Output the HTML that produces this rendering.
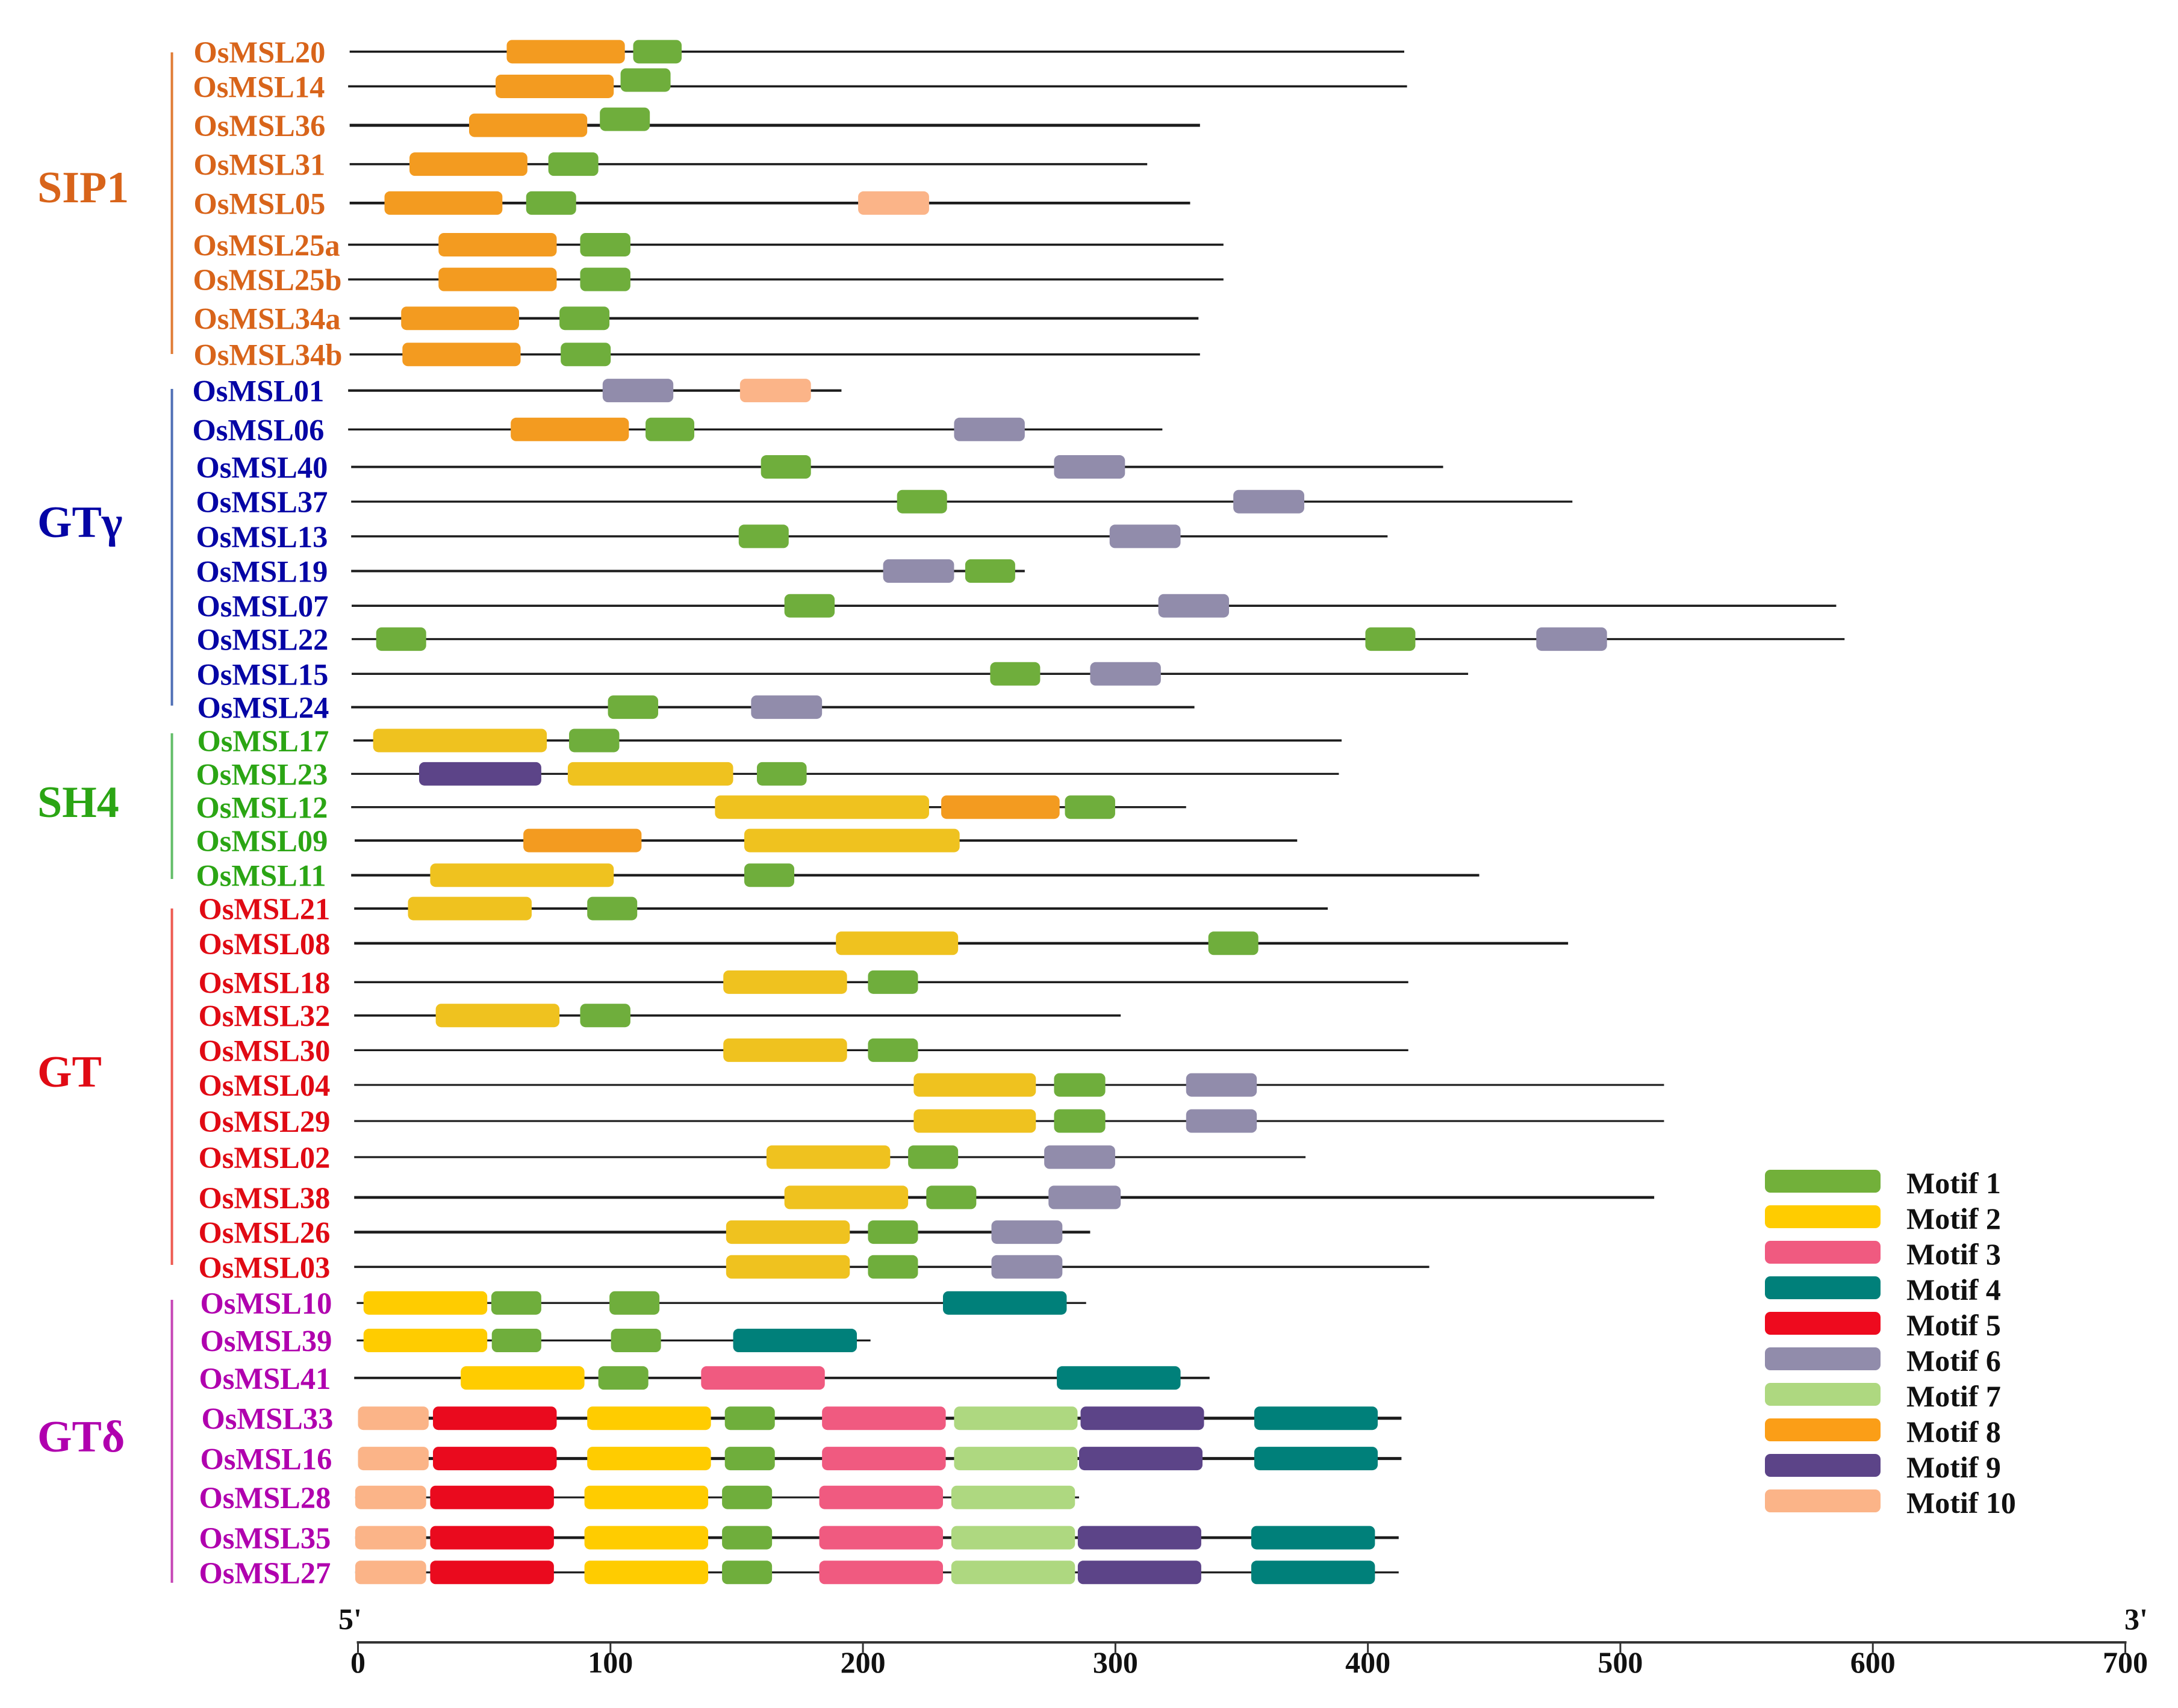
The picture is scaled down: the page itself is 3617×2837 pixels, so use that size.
<!DOCTYPE html>
<html lang="en">
<head>
<meta charset="utf-8">
<title>OsMSL motif structure</title>
<style>
html,body{margin:0;padding:0;background:#fff;}
svg{display:block;font-family:"Liberation Serif",serif;font-weight:bold;}
</style>
</head>
<body>
<svg id="chart" xmlns="http://www.w3.org/2000/svg" width="3617" height="2837" viewBox="0 0 3617 2837"></svg>
<script>
/* ---------- data ---------- */
const axisTicks = [0, 100, 200, 300, 400, 500, 600, 700];
const motifLabels = ['Motif 1','Motif 2','Motif 3','Motif 4','Motif 5','Motif 6','Motif 7','Motif 8','Motif 9','Motif 10'];
const geneNames = ['OsMSL20','OsMSL14','OsMSL36','OsMSL31','OsMSL05','OsMSL25a','OsMSL25b','OsMSL34a','OsMSL34b',
  'OsMSL01','OsMSL06','OsMSL40','OsMSL37','OsMSL13','OsMSL19','OsMSL07','OsMSL22','OsMSL15','OsMSL24',
  'OsMSL17','OsMSL23','OsMSL12','OsMSL09','OsMSL11',
  'OsMSL21','OsMSL08','OsMSL18','OsMSL32','OsMSL30','OsMSL04','OsMSL29','OsMSL02','OsMSL38','OsMSL26','OsMSL03',
  'OsMSL10','OsMSL39','OsMSL41','OsMSL33','OsMSL16','OsMSL28','OsMSL35','OsMSL27'];
const geneStart = [-3.3,-3.9,-3.3,-3.3,-3.3,-3.9,-3.9,-3.3,-3.3,
  -3.9,-3.9,-2.7,-2.7,-2.7,-2.7,-2.5,-2.5,-2.5,-2.7,
  -1.8,-2.7,-2.7,-1.3,-2.7,
  -1.5,-1.5,-1.5,-1.5,-1.5,-1.5,-1.5,-1.5,-1.5,-1.5,-1.5,
  -0.5,-0.5,-1.5,0,0,-1.1,-1.1,-1.1];
const geneEnd = [414.4,415.5,333.5,312.6,329.6,342.8,342.8,332.9,333.5,
  191.5,318.6,429.8,481,407.8,264.1,585.5,588.8,439.7,331.3,
  389.6,388.5,328,372,444.1,
  384.1,479.3,416,302.1,416,517.3,517.3,375.3,513.4,290,424.3,
  288.4,203,337.3,413.3,413.3,285.6,412.2,412.2];
const groupNames = ['SIP1','GTγ','SH4','GT','GTδ'];
const groupSizes = [9, 10, 5, 11, 8];
/* motif hits per gene: [motif number, start aa, end aa] */
const motifHits = [
  [[8,58.9,105.7],[1,109,128.2]],
  [[8,54.5,101.3],[1,104,123.8]],
  [[8,44,90.8],[1,95.8,115.6]],
  [[8,20.4,67.1],[1,75.4,95.2]],
  [[8,10.5,57.2],[1,66.6,86.4],[10,198.1,226.2]],
  [[8,31.9,78.7],[1,88,107.9]],
  [[8,31.9,78.7],[1,88,107.9]],
  [[8,17.1,63.8],[1,79.8,99.6]],
  [[8,17.6,64.4],[1,80.3,100.1]],
  [[6,96.9,124.9],[10,151.3,179.4]],
  [[8,60.5,107.3],[1,113.9,133.2],[6,236.1,264.1]],
  [[1,159.6,179.4],[6,275.7,303.8]],
  [[1,213.5,233.3],[6,346.7,374.8]],
  [[1,150.8,170.6],[6,297.7,325.8]],
  [[6,208,236.1],[1,240.5,260.3]],
  [[1,168.9,188.8],[6,317,345]],
  [[1,7.2,27],[1,399,418.8],[6,466.7,494.7]],
  [[1,250.4,270.2],[6,290,318]],
  [[1,99,118.9],[6,155.7,183.8]],
  [[2,6,74.8],[1,83.6,103.5]],
  [[9,24.2,72.6],[2,83.1,148.6],[1,158,177.7]],
  [[2,141.4,226.2],[8,231,277.9],[1,280,299.9]],
  [[8,65.5,112.3],[2,153,238.3]],
  [[2,28.6,101.3],[1,153,172.8]],
  [[2,19.8,68.8],[1,90.8,110.6]],
  [[2,189.3,237.7],[1,336.8,356.6]],
  [[2,144.7,193.7],[1,202,221.8]],
  [[2,30.8,79.8],[1,88,107.9]],
  [[2,144.7,193.7],[1,202,221.8]],
  [[2,220.1,268.5],[1,275.7,296],[6,328,356]],
  [[2,220.1,268.5],[1,275.7,296],[6,328,356]],
  [[2,161.8,210.8],[1,217.9,237.7],[6,271.8,299.9]],
  [[2,168.9,217.9],[1,225.1,244.9],[6,273.5,302.1]],
  [[2,145.8,194.8],[1,202,221.8],[6,250.9,279]],
  [[2,145.8,194.8],[1,202,221.8],[6,250.9,279]],
  [[2,2.2,51.2],[1,52.8,72.6],[1,99.6,119.4],[4,231.7,280.7]],
  [[2,2.2,51.2],[1,53,72.6],[1,100.2,120],[4,148.6,197.6]],
  [[2,40.7,89.7],[1,95.2,115],[3,135.9,184.9],[4,276.8,325.8]],
  [[10,0,28],[5,29.7,78.7],[2,90.8,139.8],[1,145.3,165.1],[3,183.8,232.8],[7,236.1,285],[9,286.2,335.1],[4,355,403.9]],
  [[10,0,28],[5,29.7,78.7],[2,90.8,139.8],[1,145.3,165.1],[3,183.8,232.8],[7,236.1,285],[9,285.6,334.5],[4,355,403.9]],
  [[10,-1.1,27],[5,28.6,77.6],[2,89.7,138.7],[1,144.2,164],[3,182.7,231.7],[7,235,284]],
  [[10,-1.1,27],[5,28.6,77.6],[2,89.7,138.7],[1,144.2,164],[3,182.7,231.7],[7,235,284],[9,285.1,334],[4,353.8,402.8]],
  [[10,-1.1,27],[5,28.6,77.6],[2,89.7,138.7],[1,144.2,164],[3,182.7,231.7],[7,235,284],[9,285.1,334],[4,353.8,402.8]]
];

/* ---------- layout & style ---------- */
const NS = 'http://www.w3.org/2000/svg';
const svg = document.getElementById('chart');
const AXIS_X0 = 594.5, AXIS_X700 = 3529.5, AXIS_Y = 2728;
const PREVIEW = 2.3068;
const FIRST_ROW = 37.2 * PREVIEW;
const rowSpacing = [25,28,28,28,30,25,28,26,26,28,27,25,25,25,25,24,25,24,24,24,24,24,25,24,25,28,24,25,25,26,26,29,25,25,26,27,27,29,29,28,29,25];
const labelLeftStyle = [323,322,323,323,323,322,322,323,323,321,321,327,327,327,327,328,328,328,329,329,327,327,327,327,331,331,331,331,331,331,331,331,331,331,331,334,334,332,336,334,332,332,332];
const lineWeightStyle = [3.6,3.6,5,3.6,4.6,3.6,3.4,4.2,3.6,4.2,3.4,3.8,3.4,3.6,4,3.6,3.4,3.4,4,3.6,3.2,3.4,4,4.2,4,4.4,3.6,3.8,3.2,3.2,3.2,3.2,4.6,4.6,3.6,3.2,3.2,4,5.2,5,3.2,4.6,3.2];
const BOX_H = 39, BOX_R = 9;
const motifColors = ['#6fae3c','#ffcc00','#f05a80','#00807a','#ea0a1e','#918cab','#aed880','#f39b20','#5c4488','#fbb488'];
const legendColors = ['#72b03a','#ffcc00','#f05a80','#00807a','#ee0a1e','#918cab','#aed880','#fb9e17','#5c4488','#fbb488'];
const groupTextColors = ['#d8641a','#0505a5','#2ba514','#e00a14','#b000ae'];
const groupLineColors = ['#e07b35','#4f6fb5','#62bd68','#ee5a50','#c545b5'];
const groupBaselines = [336, 892, 1357, 1805, 2411];
const groupLabelX = [62, 62, 62, 62, 62];
const bracketSpans = [[87,588],[646,1172],[1218,1460],[1509,2101],[2159,2629]];
const raisedRows = {OsMSL14: -10.5, OsMSL36: -10};

function xAxis(v){ return AXIS_X0 + (AXIS_X700 - AXIS_X0) * v / 700; }
function rowY(i){
  let y = FIRST_ROW;
  for (let k = 0; k < i; k++) y += rowSpacing[k] * PREVIEW;
  return y;
}
function groupOf(i){
  let acc = 0;
  for (let g = 0; g < groupSizes.length; g++){ acc += groupSizes[g]; if (i < acc) return g; }
  return groupSizes.length - 1;
}
function make(tag, attrs, text){
  const el = document.createElementNS(NS, tag);
  for (const k in attrs) el.setAttribute(k, attrs[k]);
  if (text !== undefined) el.textContent = text;
  svg.appendChild(el);
  return el;
}

/* ---------- gene rows ---------- */
geneNames.forEach(function(name, i){
  const y = rowY(i), g = groupOf(i);
  const line = make('line', {x1: xAxis(geneStart[i]), x2: xAxis(geneEnd[i]), y1: y, y2: y, stroke: '#1c1c1c', 'stroke-width': lineWeightStyle[i]});
  
  

  const label = make('text', {x: labelLeftStyle[i] - 1.5, y: y + 18, 'font-size': 50.5, fill: groupTextColors[g]}, name);
  
  

  motifHits[i].forEach(function(hit){
    const m = hit[0];
    const lift = (m === 1 && raisedRows[name]) ? raisedRows[name] : 0;
    let color = motifColors[m - 1];
    if (m === 2 && g !== 4) color = '#efc21f';
    const box = make('rect', {x: xAxis(hit[1]), y: y - BOX_H / 2 + lift, width: xAxis(hit[2]) - xAxis(hit[1]), height: BOX_H, rx: BOX_R, ry: BOX_R, fill: color});
    
    
  });
});

/* ---------- groups ---------- */
groupNames.forEach(function(name, g){
  const label = make('text', {x: groupLabelX[g], y: groupBaselines[g], 'font-size': 74, fill: groupTextColors[g]}, name);
  
  

  const bracket = make('line', {x1: 285.5, x2: 285.5, y1: bracketSpans[g][0], y2: bracketSpans[g][1], stroke: groupLineColors[g], 'stroke-width': 4});
  
  
});

/* ---------- legend ---------- */
motifLabels.forEach(function(text, k){
  const top = 1943 + 59 * k;
  const swatch = make('rect', {x: 2931, y: top, width: 192, height: 38, rx: 9, ry: 9, fill: legendColors[k]});
  
  

  const label = make('text', {x: 3166, y: top + 39, 'font-size': 50, fill: '#111'}, text);
  
  
});

/* ---------- axis ---------- */
const axisLine = make('line', {x1: xAxis(0) - 2, x2: xAxis(700) + 2, y1: AXIS_Y, y2: AXIS_Y, stroke: '#333', 'stroke-width': 4});



axisTicks.forEach(function(v){
  const tick = make('line', {x1: xAxis(v), x2: xAxis(v), y1: AXIS_Y, y2: AXIS_Y + 17, stroke: '#333', 'stroke-width': 3});
  
  

  const label = make('text', {x: xAxis(v), y: 2778, 'font-size': 50, fill: '#111', 'text-anchor': 'middle'}, String(v));
  
  
});

const fivePrime = make('text', {x: 562, y: 2706, 'font-size': 50, fill: '#111'}, "5'");



const threePrime = make('text', {x: 3528, y: 2706, 'font-size': 50, fill: '#111'}, "3'");


</script>
</body>
</html>
